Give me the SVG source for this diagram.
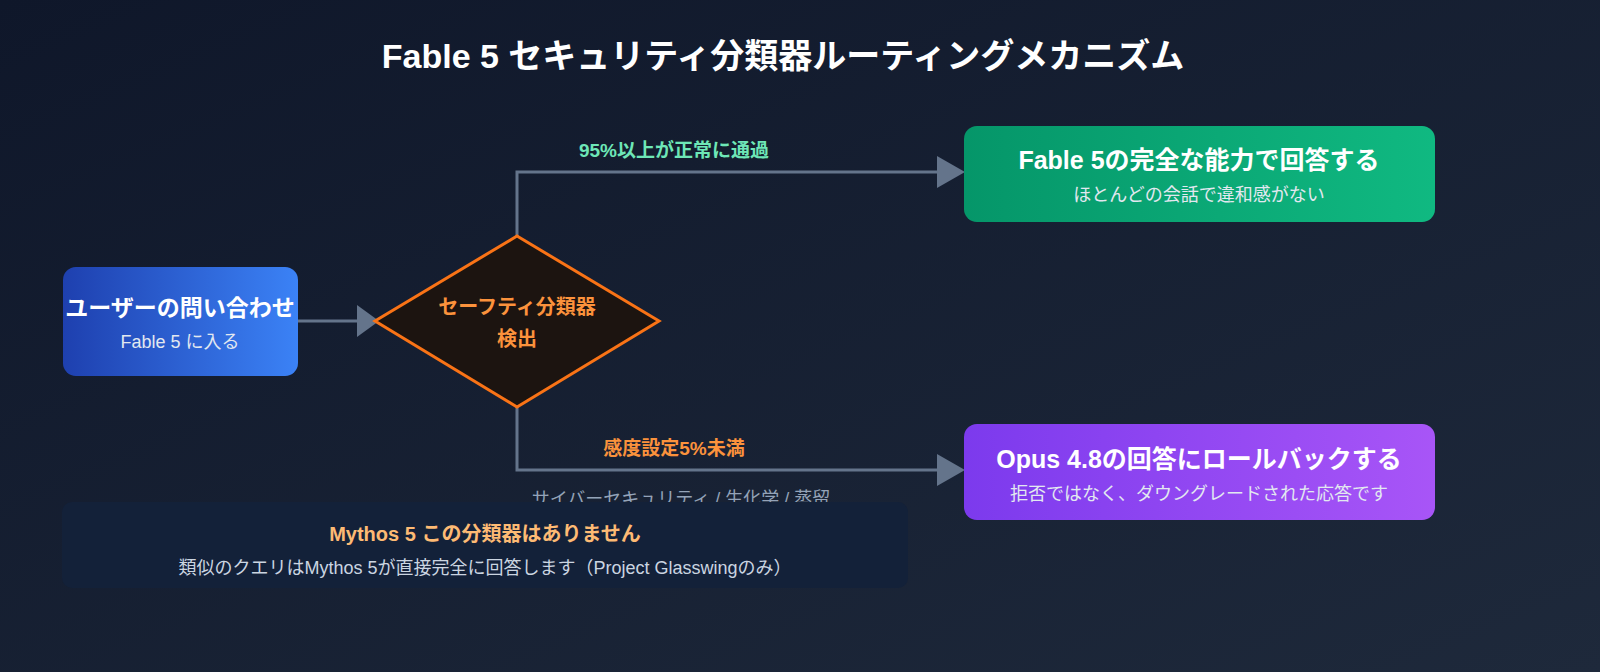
<svg xmlns="http://www.w3.org/2000/svg" width="1600" height="672" viewBox="0 0 1600 672">
<defs>
<linearGradient id="bg" x1="0" y1="0" x2="1" y2="1"><stop offset="0" stop-color="#0f172a"/><stop offset="1" stop-color="#1e293b"/></linearGradient>
<linearGradient id="gb" x1="0" y1="0" x2="1" y2="0"><stop offset="0" stop-color="#1e40af"/><stop offset="1" stop-color="#3b82f6"/></linearGradient>
<linearGradient id="gg" x1="0" y1="0" x2="1" y2="0"><stop offset="0" stop-color="#059669"/><stop offset="1" stop-color="#10b981"/></linearGradient>
<linearGradient id="gp" x1="0" y1="0" x2="1" y2="0"><stop offset="0" stop-color="#7c3aed"/><stop offset="1" stop-color="#a855f7"/></linearGradient>
<style>
text{font-family:"Liberation Sans","Noto Sans CJK JP",sans-serif;text-anchor:middle}
.t{font-weight:bold;fill:#fff}
.s{font-size:18px;fill:#e2e8f0}
.c{fill:none;stroke:#64748b;stroke-width:3}
</style>
</defs>
<rect width="1600" height="672" fill="url(#bg)"/>
<text x="783" y="68" style="font-size:34px;font-weight:bold;fill:#fff">Fable 5 セキュリティ分類器ルーティングメカニズム</text>
<g id="connectors">
<path class="c" d="M298,321 H377"/>
<path d="M357,305 L379,321 L357,337 z" fill="#64748b"/>
<path class="c" d="M517,236 V172 H945"/>
<path d="M937,156 L965,172 L937,188 z" fill="#64748b"/>
<path class="c" d="M517,407 V470 H945"/>
<path d="M937,454 L965,470 L937,486 z" fill="#64748b"/>
<text x="674" y="157" style="font-size:19px;font-weight:bold;fill:#6ee7b7">95%以上が正常に通過</text>
<text x="674" y="455" style="font-size:19px;font-weight:bold;fill:#fb923c">感度設定5%未満</text>
<text x="681" y="505" style="font-size:18px;fill:#94a3b8">サイバーセキュリティ / 生化学 / 蒸留</text>
</g>
<g id="user">
<rect x="63" y="267" width="235" height="109" rx="13" fill="url(#gb)"/>
<text x="180" y="316" class="t" style="font-size:23px">ユーザーの問い合わせ</text>
<text x="180" y="348" class="s">Fable 5 に入る</text>
</g>
<g id="classifier">
<polygon points="517,236 659,321 517,407 375,321" fill="#1c1410" stroke="#f97316" stroke-width="3"/>
<text x="517" y="314" style="font-size:20px;font-weight:bold;fill:#fb923c">セーフティ分類器</text>
<text x="517" y="346" style="font-size:20px;font-weight:bold;fill:#fb923c">検出</text>
</g>
<g id="full">
<rect x="964" y="126" width="471" height="96" rx="13" fill="url(#gg)"/>
<text x="1199" y="169" class="t" style="font-size:25px">Fable 5の完全な能力で回答する</text>
<text x="1199" y="201" class="s">ほとんどの会話で違和感がない</text>
</g>
<g id="fallback">
<rect x="964" y="424" width="471" height="96" rx="13" fill="url(#gp)"/>
<text x="1199" y="468" class="t" style="font-size:25px">Opus 4.8の回答にロールバックする</text>
<text x="1199" y="500" class="s">拒否ではなく、ダウングレードされた応答です</text>
</g>
<g id="mythos">
<rect x="62" y="502" width="846" height="86" rx="10" fill="#132139"/>
<text x="485" y="541" style="font-size:20px;font-weight:bold;fill:#fdba74">Mythos 5 この分類器はありません</text>
<text x="485" y="574" style="font-size:18px;fill:#cbd5e1">類似のクエリはMythos 5が直接完全に回答します（Project Glasswingのみ）</text>
</g>
</svg>
